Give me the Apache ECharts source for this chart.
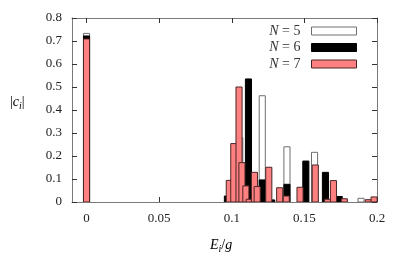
<!DOCTYPE html>
<html>
<head>
<meta charset="utf-8">
<script src="https://cdn.jsdelivr.net/npm/echarts@6/dist/echarts.min.js"></script>
<style>html,body{margin:0;padding:0;background:#fff}#c{width:399px;height:260px}</style>
</head>
<body>
<div id="c"></div>
<script>
// Data (energy E_i/g, weight |c_i|)
const seriesNames = ['N = 5', 'N = 6', 'N = 7'];
const energiesN5 = [0, 0.1055, 0.121, 0.138, 0.157, 0.189];
const valuesN5   = [0.733, 0.28, 0.462, 0.24, 0.216, 0.016];
const energiesN6 = [0, 0.097, 0.1115, 0.121, 0.1275, 0.138, 0.151, 0.1645, 0.174];
const valuesN6   = [0.722, 0.026, 0.535, 0.096, 0.009, 0.077, 0.178, 0.129, 0.024];
const energiesN7 = [0, 0.0983, 0.1014, 0.105, 0.107, 0.1097, 0.112, 0.1156, 0.1175, 0.1255, 0.133, 0.1375, 0.147, 0.1575, 0.166, 0.170, 0.1775, 0.194, 0.198];
const valuesN7   = [0.709, 0.094, 0.254, 0.50, 0.171, 0.07, 0.012, 0.129, 0.067, 0.151, 0.062, 0.026, 0.064, 0.161, 0.012, 0.093, 0.014, 0.01, 0.022];
const xTicks = [0, 0.05, 0.1, 0.15, 0.2];
const boxWidth = 0.0042;

const FONT = 'Liberation Serif';
const chart = echarts.init(document.getElementById('c'), null, {renderer: 'canvas'});

function pairs(xs, ys) { return xs.map((x, i) => [x, ys[i]]); }

function renderBox(params, api) {
  const x = api.value(0), y = api.value(1);
  const p0 = api.coord([x - boxWidth / 2, y]);
  const p1 = api.coord([x + boxWidth / 2, 0]);
  return {
    type: 'rect',
    shape: {x: p0[0], y: p0[1], width: p1[0] - p0[0], height: p1[1] - p0[1]},
    style: api.style()
  };
}

const styles = [
  {color: '#ffffff', borderColor: '#6e6e6e', borderWidth: 1},
  {color: '#000000', borderColor: '#000000', borderWidth: 1},
  {color: '#ff8080', borderColor: '#4a2424', borderWidth: 1}
];
const datasets = [pairs(energiesN5, valuesN5), pairs(energiesN6, valuesN6), pairs(energiesN7, valuesN7)];

const frame = {show: true, onZero: false, lineStyle: {color: '#7a7a7a', width: 1}};
const tick = {show: true, inside: true, length: 5, lineStyle: {color: '#333', width: 1}};

chart.setOption({
  animation: false,
  backgroundColor: '#fff',
  grid: {left: 72, right: 22, top: 18, bottom: 58},
  legend: {
    orient: 'vertical', right: 42, top: 23, padding: 0,
    align: 'right', itemWidth: 45, itemHeight: 8, itemGap: 0.5,
    icon: 'rect',
    itemStyle: {borderWidth: 1},
    selectedMode: false,
    data: seriesNames.map(n => ({name: n, icon: 'rect'})),
    formatter: function (name) { return '{i|N}{t| = ' + name.split('= ')[1] + '}'; },
    textStyle: {
      fontFamily: FONT, fontSize: 13, color: '#333', lineHeight: 16, padding: [0, 6, 0, 0],
      rich: {
        i: {fontFamily: FONT, fontSize: 14, fontStyle: 'italic', color: '#333'},
        t: {fontFamily: FONT, fontSize: 14, color: '#333'}
      }
    }
  },
  xAxis: [{
    type: 'value', min: -0.01, max: 0.2, position: 'bottom',
    axisLine: frame, splitLine: {show: false},
    axisTick: Object.assign({}, tick, {customValues: xTicks}),
    axisLabel: {customValues: xTicks, margin: 10, fontFamily: FONT, fontSize: 13, color: '#222'}
  }, {
    type: 'value', min: -0.01, max: 0.2, position: 'top',
    axisLine: frame, splitLine: {show: false},
    axisTick: Object.assign({}, tick, {customValues: xTicks}),
    axisLabel: {show: false}
  }],
  yAxis: [{
    type: 'value', min: 0, max: 0.8, interval: 0.1, position: 'left',
    axisLine: frame, splitLine: {show: false}, axisTick: tick,
    axisLabel: {margin: 10, fontFamily: FONT, fontSize: 13, color: '#222'}
  }, {
    type: 'value', min: 0, max: 0.8, interval: 0.1, position: 'right',
    axisLine: frame, splitLine: {show: false}, axisTick: tick,
    axisLabel: {show: false}
  }],
  graphic: [{
    type: 'text', left: 10, top: 95,
    style: {
      text: '{n||}{i|c}{s|i}{n||}',
      rich: {
        n: {fontFamily: FONT, fontSize: 14, color: '#333'},
        i: {fontFamily: FONT, fontSize: 14, fontStyle: 'italic', color: '#333'},
        s: {fontFamily: FONT, fontSize: 10, fontStyle: 'italic', color: '#333', padding: [8, 0, 0, 0]}
      }
    }
  }, {
    type: 'text', left: 210, top: 238,
    style: {
      text: '{i|E}{s|i}{n|/}{i|g}',
      rich: {
        n: {fontFamily: FONT, fontSize: 14, color: '#333'},
        i: {fontFamily: FONT, fontSize: 14, fontStyle: 'italic', color: '#333'},
        s: {fontFamily: FONT, fontSize: 10, fontStyle: 'italic', color: '#333', padding: [8, 0, 0, 0]}
      }
    }
  }],
  series: seriesNames.map((name, k) => ({
    name: name,
    type: 'custom',
    xAxisIndex: 0, yAxisIndex: 0,
    clip: true,
    renderItem: renderBox,
    itemStyle: styles[k],
    encode: {x: 0, y: 1},
    data: datasets[k]
  }))
});
</script>
</body>
</html>
